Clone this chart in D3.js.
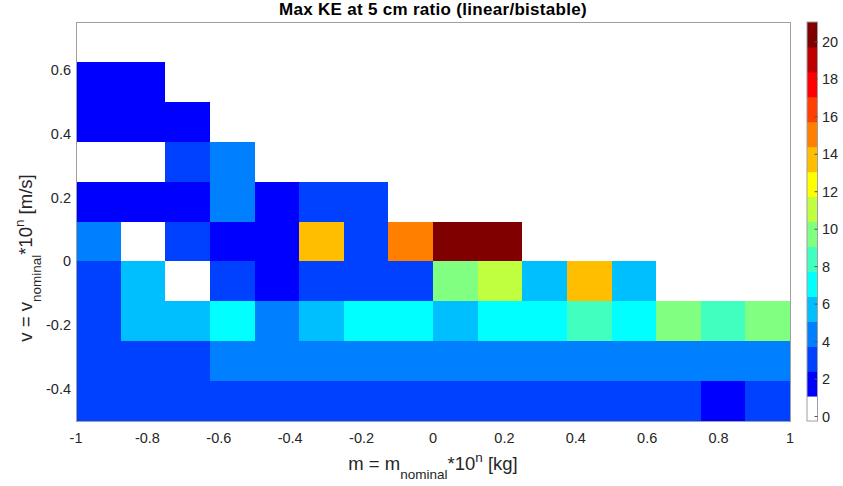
<!DOCTYPE html>
<html>
<head>
<meta charset="utf-8">
<script src="https://cdn.jsdelivr.net/npm/d3@7"></script>
<style>
  body { margin: 0; background: #fff; }
  text { font-family: "Liberation Sans", Arial, sans-serif; fill: #262626; }
</style>
</head>
<body>
<div id="my_dataviz"></div>
<script>
// cell centres
var mCenters = [-0.9375, -0.8125, -0.6875, -0.5625, -0.4375, -0.3125, -0.1875, -0.0625,
                 0.0625,  0.1875,  0.3125,  0.4375,  0.5625,  0.6875,  0.8125,  0.9375];
var vCenters = [0.6875, 0.5625, 0.4375, 0.3125, 0.1875, 0.0625, -0.0625, -0.1875, -0.3125, -0.4375];

// max KE ratio, one row per v (top to bottom)
var keRatio = [
  [0, 0, 0, 0, 0, 0, 0, 0, 0, 0, 0, 0, 0, 0, 0, 0],
  [1.8, 1.8, 0, 0, 0, 0, 0, 0, 0, 0, 0, 0, 0, 0, 0, 0],
  [1.8, 1.9, 1.8, 0, 0, 0, 0, 0, 0, 0, 0, 0, 0, 0, 0, 0],
  [0, 0, 3.1, 4.4, 0, 0, 0, 0, 0, 0, 0, 0, 0, 0, 0, 0],
  [1.8, 1.7, 1.8, 4.5, 1.9, 3.2, 3.1, 0, 0, 0, 0, 0, 0, 0, 0, 0],
  [4.3, 0, 3.0, 1.8, 1.6, 13.8, 3.1, 15.0, 20.4, 21.0, 0, 0, 0, 0, 0, 0],
  [3.1, 5.7, 0, 3.0, 1.9, 3.2, 3.1, 3.0, 9.7, 11.1, 5.8, 13.7, 5.6, 0, 0, 0],
  [3.2, 5.8, 5.7, 7.1, 4.4, 5.6, 7.0, 7.2, 5.7, 7.1, 7.0, 8.4, 7.1, 9.8, 8.3, 9.6],
  [3.1, 3.0, 3.1, 4.4, 4.5, 4.4, 4.3, 4.4, 4.4, 4.5, 4.4, 4.3, 4.4, 4.4, 4.5, 4.4],
  [3.1, 3.0, 3.2, 3.1, 3.0, 3.1, 3.1, 3.2, 3.1, 3.0, 3.1, 3.1, 3.2, 3.1, 1.8, 3.1]
];

var xTicks = [-1, -0.8, -0.6, -0.4, -0.2, 0, 0.2, 0.4, 0.6, 0.8, 1];
var yTicks = [-0.4, -0.2, 0, 0.2, 0.4, 0.6];
var cTicks = [0, 2, 4, 6, 8, 10, 12, 14, 16, 18, 20];

// jet(16) with the lowest colour replaced by white
var cmap = ["#ffffff", "#0000ff", "#0040ff", "#0080ff", "#00bfff", "#00ffff", "#40ffbf", "#80ff80",
            "#bfff40", "#ffff00", "#ffbf00", "#ff8000", "#ff4000", "#ff0000", "#bf0000", "#800000"];
var cLimits = [-0.24, 21.06];

var W = 843, H = 486;
var plot = {left: 76, right: 790, top: 22, bottom: 421};

var svg = d3.select("#my_dataviz")
  .append("svg")
    .attr("width", W)
    .attr("height", H);

var x = d3.scaleLinear().domain([-1, 1]).range([plot.left, plot.right]);
var y = d3.scaleLinear().domain([-0.5, 0.75]).range([plot.bottom, plot.top]);
var color = d3.scaleQuantize().domain(cLimits).range(cmap);

var dm = mCenters[1] - mCenters[0];
var dv = vCenters[0] - vCenters[1];

// tick marks (inward, under the cells)
svg.append("g")
  .attr("transform", "translate(0," + plot.bottom + ")")
  .call(d3.axisBottom(x).tickValues(xTicks).tickSizeInner(-5).tickSizeOuter(0).tickFormat(""))
  .call(function(g) { g.select(".domain").remove(); })
  .selectAll("line").attr("stroke", "#262626");
svg.append("g")
  .attr("transform", "translate(" + plot.left + ",0)")
  .call(d3.axisLeft(y).tickValues(yTicks).tickSizeInner(-5).tickSizeOuter(0).tickFormat(""))
  .call(function(g) { g.select(".domain").remove(); })
  .selectAll("line").attr("stroke", "#262626");

// cells
var cells = [];
keRatio.forEach(function(row, i) {
  row.forEach(function(val, j) {
    cells.push({m: mCenters[j], v: vCenters[i], val: val});
  });
});

svg.append("g")
  .attr("shape-rendering", "crispEdges")
  .selectAll("rect")
  .data(cells)
  .enter()
  .append("rect")
    .attr("x", function(d) { return Math.round(x(d.m - dm / 2)); })
    .attr("y", function(d) { return Math.round(y(d.v + dv / 2)); })
    .attr("width", function(d) { return Math.round(x(d.m + dm / 2)) - Math.round(x(d.m - dm / 2)); })
    .attr("height", function(d) { return Math.round(y(d.v - dv / 2)) - Math.round(y(d.v + dv / 2)); })
    .attr("fill", function(d) { return color(d.val); });

// box
svg.append("rect")
  .attr("x", plot.left + 0.5).attr("y", plot.top + 0.5)
  .attr("width", plot.right - plot.left).attr("height", plot.bottom - plot.top)
  .attr("fill", "none").attr("stroke", "#a0a0a0").attr("stroke-width", 1);

// tick labels
svg.append("g").selectAll("text")
  .data(xTicks).enter().append("text")
    .attr("x", function(d) { return x(d); })
    .attr("y", 443)
    .attr("text-anchor", "middle")
    .attr("font-size", "14.5px")
    .text(function(d) { return d; });
svg.append("g").selectAll("text")
  .data(yTicks).enter().append("text")
    .attr("x", 71)
    .attr("y", function(d) { return y(d) + 5; })
    .attr("text-anchor", "end")
    .attr("font-size", "14.5px")
    .text(function(d) { return d; });

// title
svg.append("text")
  .attr("x", (plot.left + plot.right) / 2)
  .attr("y", 15)
  .attr("text-anchor", "middle")
  .attr("font-size", "17px")
  .attr("font-weight", "bold")
  .attr("letter-spacing", "0.3px")
  .style("fill", "#000")
  .text("Max KE at 5 cm ratio (linear/bistable)");

// x label
var xl = svg.append("text")
  .attr("x", (plot.left + plot.right) / 2)
  .attr("y", 470)
  .attr("text-anchor", "middle")
  .attr("font-size", "18.5px");
xl.append("tspan").text("m = m");
xl.append("tspan").attr("dy", 9).attr("font-size", "13.5px").text("nominal");
xl.append("tspan").attr("dy", -9).text("*10");
xl.append("tspan").attr("dy", -8).attr("font-size", "13.5px").text("n");
xl.append("tspan").attr("dy", 8).text(" [kg]");

// y label
var yl = svg.append("text")
  .attr("transform", "translate(32,258)rotate(-90)")
  .attr("text-anchor", "middle")
  .attr("font-size", "18.5px");
yl.append("tspan").text("v = v");
yl.append("tspan").attr("dy", 9).attr("font-size", "13.5px").text("nominal");
yl.append("tspan").attr("dy", -9).text("*10");
yl.append("tspan").attr("dy", -8).attr("font-size", "13.5px").text("n");
yl.append("tspan").attr("dy", 8).text(" [m/s]");

// colorbar
var cb = {left: 807, width: 10.5};
var yc = d3.scaleLinear().domain(cLimits).range([plot.bottom, plot.top]);

svg.append("g").selectAll("rect")
  .data(cmap).enter().append("rect")
    .attr("x", cb.left)
    .attr("y", function(d) { return yc(color.invertExtent(d)[1]); })
    .attr("width", cb.width)
    .attr("height", function(d) { var e = color.invertExtent(d); return yc(e[0]) - yc(e[1]) + 0.5; })
    .attr("fill", function(d) { return d; });

svg.append("rect")
  .attr("x", cb.left).attr("y", plot.top)
  .attr("width", cb.width).attr("height", plot.bottom - plot.top)
  .attr("fill", "none").attr("stroke", "#a0a0a0").attr("stroke-width", 1);

svg.append("g").selectAll("line")
  .data(cTicks).enter().append("line")
    .attr("x1", cb.left + cb.width - 3).attr("x2", cb.left + cb.width)
    .attr("y1", function(d) { return yc(d); })
    .attr("y2", function(d) { return yc(d); })
    .attr("stroke", "#555");

svg.append("g").selectAll("text")
  .data(cTicks).enter().append("text")
    .attr("x", 822)
    .attr("y", function(d) { return yc(d) + 5; })
    .attr("font-size", "14.5px")
    .text(function(d) { return d; });
</script>
</body>
</html>
